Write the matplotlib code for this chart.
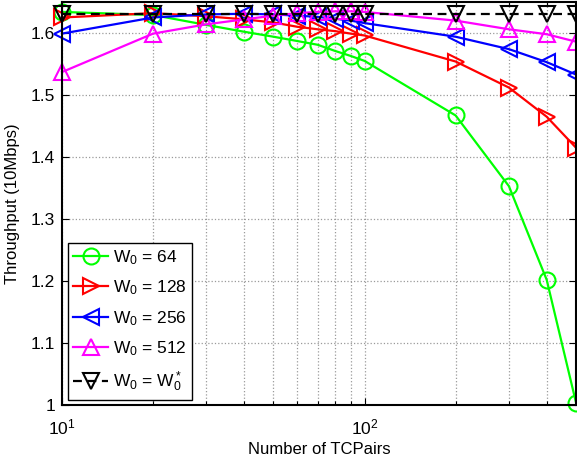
import matplotlib
matplotlib.use("Agg")
import matplotlib.pyplot as plt
from matplotlib.ticker import FixedLocator, NullFormatter

plt.rcParams['font.family'] = ['Liberation Sans', 'DejaVu Sans']
plt.rcParams['mathtext.fontset'] = 'custom'
plt.rcParams['mathtext.rm'] = 'Liberation Sans'
plt.rcParams['mathtext.it'] = 'Liberation Sans'

x = [10, 20, 30, 40, 50, 60, 70, 80, 90, 100, 200, 300, 400, 500]
w64 = [1.634, 1.629, 1.613, 1.602, 1.594, 1.587, 1.581, 1.571, 1.563, 1.555, 1.467, 1.353, 1.202, 1.004]
w128 = [1.625, 1.632, 1.627, 1.622, 1.617, 1.610, 1.606, 1.603, 1.599, 1.596, 1.554, 1.512, 1.465, 1.415]
w256 = [1.599, 1.625, 1.630, 1.631, 1.630, 1.628, 1.626, 1.623, 1.620, 1.616, 1.594, 1.574, 1.553, 1.533]
w512 = [1.537, 1.599, 1.614, 1.622, 1.628, 1.632, 1.634, 1.635, 1.635, 1.634, 1.620, 1.606, 1.598, 1.586]
wopt = [1.631] * 14

labels = [r'W$_0$ = 64', r'W$_0$ = 128', r'W$_0$ = 256', r'W$_0$ = 512', r'W$_0$ = W$_0^*$']

fig = plt.figure(figsize=(5.77, 4.61), dpi=100)
ax = fig.add_axes([62/577, 1-405/461, 514/577, 403/461])

ms = 11.5
lw = 1.6
mew = 1.5
ax.plot(x, w64, '-', color=(0, 1, 0), marker='o', ms=ms, mfc='none', mew=mew, lw=lw, label=labels[0], clip_on=False)
ax.plot(x, w128, '-', color=(1, 0, 0), marker='>', ms=ms, mfc='none', mew=mew, lw=lw, label=labels[1], clip_on=False)
ax.plot(x, w256, '-', color=(0, 0, 1), marker='<', ms=ms, mfc='none', mew=mew, lw=lw, label=labels[2], clip_on=False)
ax.plot(x, w512, '-', color=(1, 0, 1), marker='^', ms=ms, mfc='none', mew=mew, lw=lw, label=labels[3], clip_on=False)
ax.plot(x, wopt, color='k', linestyle=(0, (4, 2.5)), marker='v', ms=ms, mfc='none', mew=mew, lw=lw, label=labels[4], clip_on=False)

ax.set_xscale('log')
ax.set_xlim(10, 500)
ax.set_ylim(1.0, 1.65)
ax.set_yticks([1.0, 1.1, 1.2, 1.3, 1.4, 1.5, 1.6])
ax.set_yticklabels(['1', '1.1', '1.2', '1.3', '1.4', '1.5', '1.6'])
ax.xaxis.set_major_locator(FixedLocator([10, 100]))
ax.xaxis.set_minor_locator(FixedLocator([20, 30, 40, 50, 60, 70, 80, 90, 200, 300, 400]))
ax.xaxis.set_minor_formatter(NullFormatter())
ax.set_xticklabels([r'10$^1$', r'10$^2$'])

ax.grid(True, which='major', linestyle=':', color='#9a9a9a', lw=0.9)
ax.grid(True, which='minor', axis='x', linestyle=':', color='#9a9a9a', lw=0.9)
ax.set_axisbelow(True)

ax.tick_params(which='both', direction='in', top=True, right=True, labelsize=12.5, width=0.8)
ax.tick_params(which='major', length=5)
ax.tick_params(which='minor', length=3)
ax.tick_params(axis='x', which='major', pad=9)
ax.tick_params(axis='y', which='major', pad=5)
for s in ax.spines.values():
    s.set_linewidth(1.5)

ax.set_xlabel('Number of TCPairs', fontsize=12, labelpad=3)
ax.set_ylabel('Throughput (10Mbps)', fontsize=12, labelpad=8)

leg = ax.legend(loc='lower left', bbox_to_anchor=(0.005, 0.005), fontsize=12.5, frameon=True,
                fancybox=False, edgecolor='k', framealpha=1, handlelength=2.0,
                handletextpad=0.3, borderpad=0.3, labelspacing=0.68, borderaxespad=0.2)
leg.get_frame().set_linewidth(1.0)

fig.savefig('out.png', dpi=100)
